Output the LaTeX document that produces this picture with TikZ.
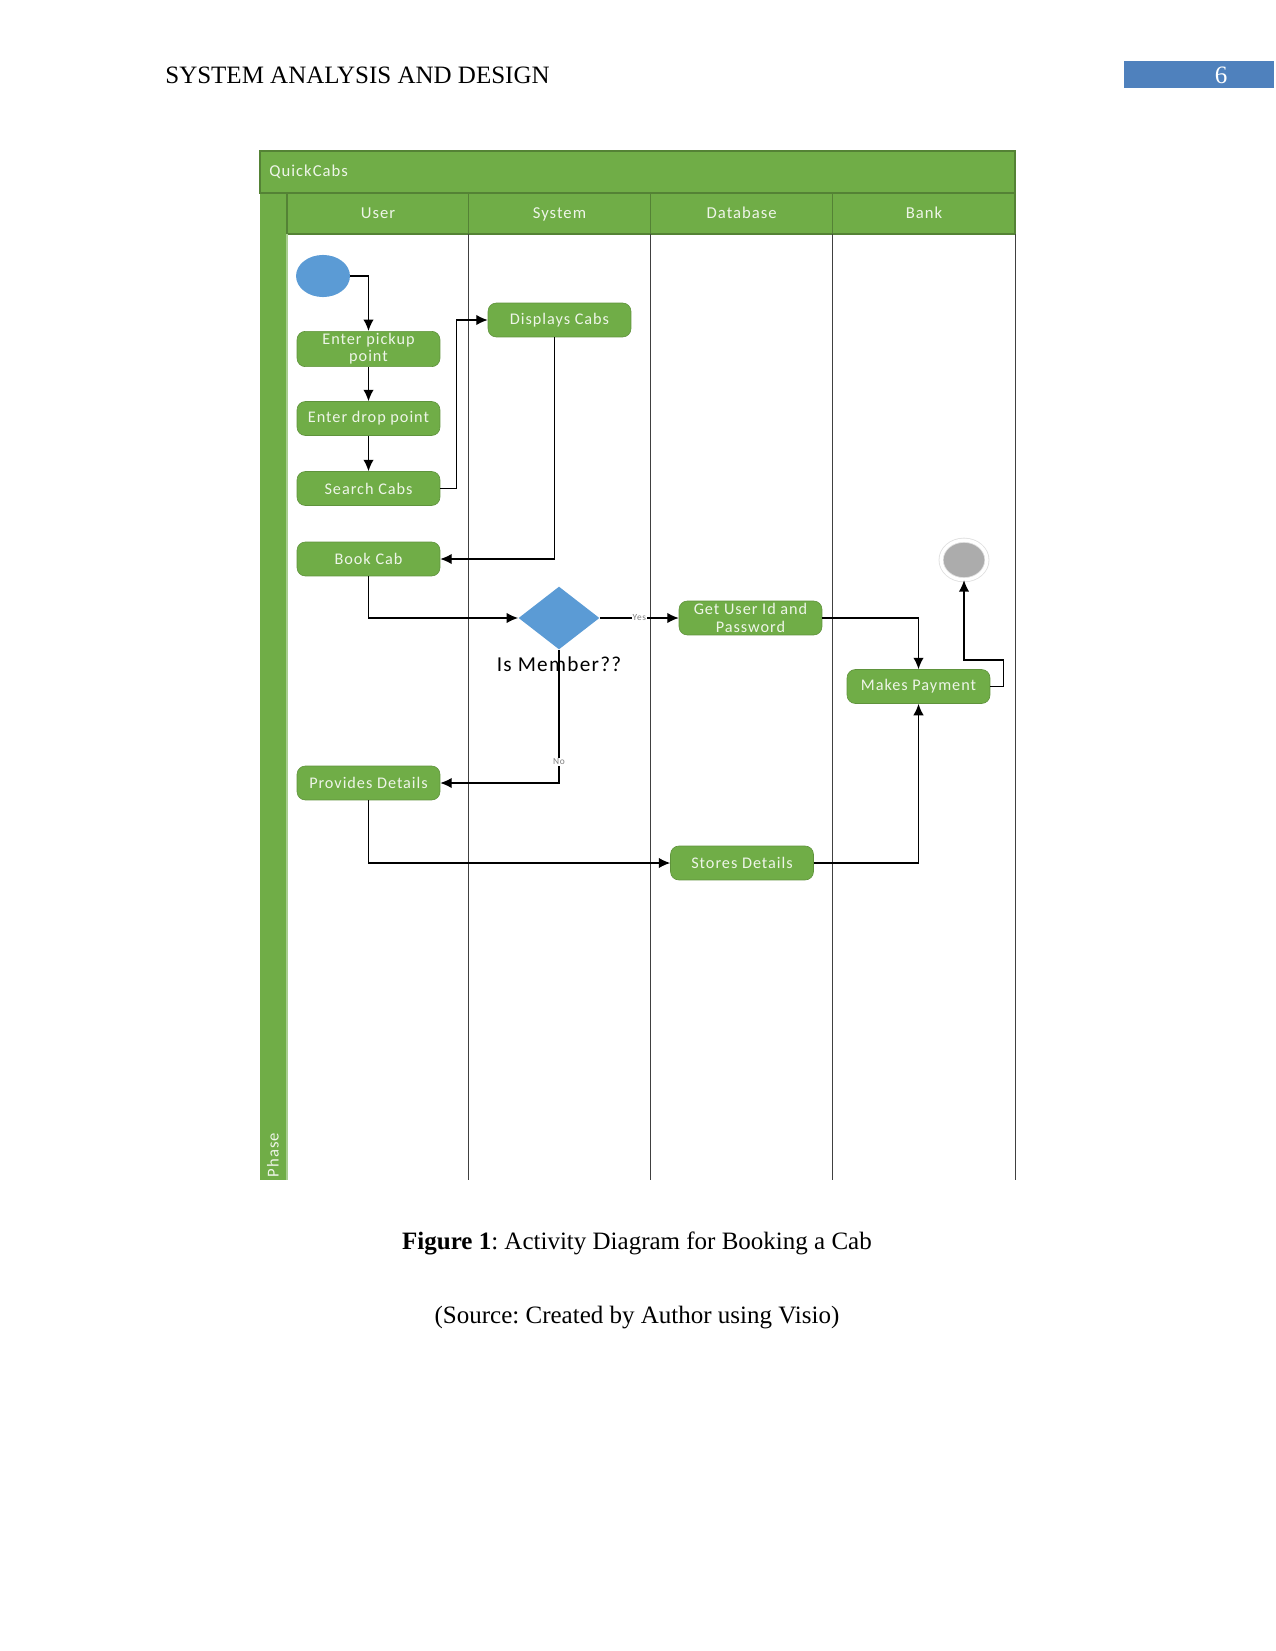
\documentclass[tikz,border=0pt]{standalone}
\usepackage{fontspec}
\setmainfont{Liberation Serif}
\newfontfamily\visio[LetterSpace=6]{Carlito}
\usetikzlibrary{shapes.geometric,arrows.meta,positioning}
\definecolor{lanegreen}{HTML}{70AD47}
\definecolor{darkgreen}{HTML}{548235}
\definecolor{paletext}{HTML}{EEF5E8}
\definecolor{startblue}{HTML}{5B9BD5}
\definecolor{pageblue}{HTML}{4F81BD}
\frenchspacing

\begin{document}
\begin{tikzpicture}[x=0.48pt, y=-0.48pt,
  act/.style={rectangle, rounded corners=4pt, fill=lanegreen, draw=lanegreen!85!black, line width=0.3pt, minimum width=68.6pt, minimum height=16.3pt, inner sep=1pt, align=center, text=paletext, font=\visio\fontsize{7.8}{8.3}\selectfont},
  lanehead/.style={font=\visio\fontsize{8}{9}\selectfont, text=paletext, text height=1.5ex, text depth=0.3ex},
  arr/.style={-{Latex[length=5.5pt, width=5pt]}, line width=0.65pt},
  guard/.style={font=\visio\fontsize{4.5}{5}\selectfont, text=gray, fill=white, inner sep=0.5pt}
]
  \useasboundingbox (0,0) rectangle (1275,1651);

  \node[anchor=west, font=\fontsize{12}{14}\selectfont] (head) at (158,75) {SYSTEM ANALYSIS AND DESIGN};
  \fill[pageblue] (1124,61) rectangle (1274,88);
  \node[text=white, font=\fontsize{12}{14}\selectfont] (pagenum) at (1221,75) {6};

  \fill[lanegreen] (260,151) rectangle (1015,234);
  \fill[lanegreen] (260,234) rectangle (287,1180);
  \draw[darkgreen, line width=0.5pt] (260,151) rectangle (1015,193);
  \draw[darkgreen, line width=0.5pt] (287,193) rectangle (1015,234);
  \draw[darkgreen, line width=0.5pt] (468.5,193) -- (468.5,234);
  \draw[darkgreen, line width=0.5pt] (650.6,193) -- (650.6,234);
  \draw[darkgreen, line width=0.5pt] (832.8,193) -- (832.8,234);
  \draw[lanegreen!60!white, line width=0.5pt] (287,234) -- (287,1180);
  \draw[black!75, line width=0.4pt] (468.5,234) -- (468.5,1180);
  \draw[black!75, line width=0.4pt] (650.6,234) -- (650.6,1180);
  \draw[black!75, line width=0.4pt] (832.8,234) -- (832.8,1180);
  \draw[black!75, line width=0.4pt] (1015,234) -- (1015,1180);

  \node[anchor=west, lanehead] (pool) at (262,171) {QuickCabs};
  \node[lanehead] (user) at (378,213) {User};
  \node[lanehead] (system) at (559.5,213) {System};
  \node[lanehead] (database) at (741.7,213) {Database};
  \node[lanehead] (bank) at (924,213) {Bank};
  \node[lanehead, rotate=90] (phase) at (273,1155) {Phase};

  \node[ellipse, fill=startblue, minimum width=25.9pt, minimum height=20.2pt, inner sep=0] (start) at (323,276) {};
  \node[act] (pickup) at (368.5,349) {Enter pickup\\point};
  \node[act] (drop) at (368.5,418.5) {Enter drop point};
  \node[act] (search) at (368.5,488.5) {Search Cabs};
  \node[act] (book) at (368.5,559) {Book Cab};
  \node[act] (provide) at (368.5,783) {Provides Details};
  \node[act] (display) at (559.5,320) {Displays Cabs};
  \node[diamond, fill=startblue, minimum width=38.9pt, minimum height=30.2pt, inner sep=0,
    label={[label distance=0pt, font=\visio\fontsize{10.2}{12}\selectfont]below:Is Member??}] (member) at (559,618) {};
  \node[act] (getid) at (750.5,618) {Get User Id and\\Password};
  \node[act] (store) at (742,863) {Stores Details};
  \node[act] (pay) at (918.5,686.5) {Makes Payment};
  \node[ellipse, fill=gray!65, draw=gray!25, double=white, double distance=1.6pt, minimum width=22pt, minimum height=19pt, inner sep=0] (stop) at (964,560) {};

  \draw[arr] (start.east) -| (pickup.north);
  \draw[arr] (pickup) -- (drop);
  \draw[arr] (drop) -- (search);
  \draw[arr] (search.east) -- ++(16,0) |- (display.west);
  \draw[arr] ([xshift=-2.5pt]display.south) |- (book.east);
  \draw[arr] (book.south) |- (member.west);
  \draw[arr] (member.east) -- node[guard] {Yes} (getid.west);
  \draw[arr] (member.south) |- node[guard, pos=0.42] {No} (provide.east);
  \draw[arr] (provide.south) |- (store.west);
  \draw[arr] (getid.east) -| (pay.north);
  \draw[arr] (store.east) -| (pay.south);
  \draw[arr] (pay.east) -- ++(13,0) -- ++(0,-26.5) -| (stop.south);

  \node[font=\fontsize{12}{14}\selectfont] (caption) at (637,1243) {\textbf{Figure 1}: Activity Diagram for Booking a Cab};
  \node[font=\fontsize{12}{14}\selectfont] (source) at (637,1318) {(Source: Created by Author using Visio)};
\end{tikzpicture}
\end{document}
